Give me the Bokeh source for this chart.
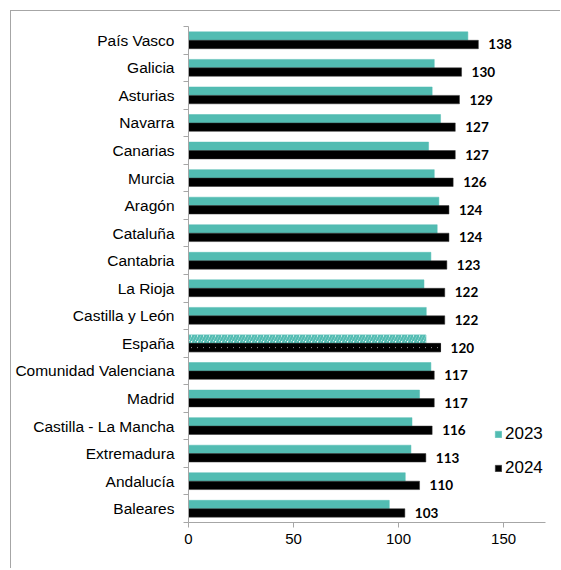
from bokeh.plotting import figure
from bokeh.models import Range1d, FixedTicker, Legend, LegendItem, ColumnDataSource
from bokeh.core.properties import value
from bokeh.embed import file_html
from bokeh.resources import INLINE

regions = ["País Vasco", "Galicia", "Asturias", "Navarra", "Canarias", "Murcia",
           "Aragón", "Cataluña", "Cantabria", "La Rioja", "Castilla y León", "España",
           "Comunidad Valenciana", "Madrid", "Castilla - La Mancha", "Extremadura",
           "Andalucía", "Baleares"]
v2023 = [133, 117, 116, 120, 114.3, 117, 119.2, 118.4, 115.4, 112.1, 113.2, 113,
         115.4, 110, 106.4, 105.9, 103.2, 95.6]
v2024 = [138, 130, 129, 127, 127, 126, 124, 124, 123, 122, 122, 120, 117, 117, 116,
         113, 110, 103]
highlight = "España"
x_ticks = [0, 50, 100, 150]

TEAL = "#52BCB2"
GRAY = "#a6a6a6"
n = len(regions)
ypos = [n - 1 - i for i in range(n)]
off = 0.153
h = 0.305

def rows(sel):
    idx = [i for i, r in enumerate(regions) if sel(r)]
    return ColumnDataSource(dict(
        y23=[ypos[i] + off for i in idx],
        y24=[ypos[i] - off for i in idx],
        v23=[v2023[i] for i in idx],
        v24=[v2024[i] for i in idx],
    ))

src = rows(lambda r: r != highlight)
src_h = rows(lambda r: r == highlight)
src_lab = ColumnDataSource(dict(x=v2024, y=[p - off for p in ypos],
                                t=[str(v) for v in v2024]))

p = figure(width=550, height=558, output_backend="svg", toolbar_location=None,
           x_range=Range1d(0, 175.2), y_range=Range1d(-0.5, n - 0.5),
           min_border_left=177, min_border_top=15, min_border_bottom=47,
           min_border_right=5)
p.margin = (10, 0, 0, 10)
p.styles = {"border-left": "1px solid #a6a6a6", "border-top": "1px solid #a6a6a6"}
p.outline_line_color = None
p.xgrid.visible = False
p.ygrid.visible = False

r23 = p.hbar(y="y23", right="v23", left=0, height=h, source=src,
             fill_color=TEAL, line_color=TEAL, line_width=0.5)
r24 = p.hbar(y="y24", right="v24", left=0, height=h, source=src,
             fill_color="black", line_color="#333333", line_width=0.5)
p.hbar(y="y23", right="v23", left=0, height=h, source=src_h,
       fill_color="white", line_color=TEAL, line_width=0.8,
       hatch_pattern="/", hatch_color=TEAL, hatch_weight=2.5, hatch_scale=6)
p.hbar(y="y24", right="v24", left=0, height=h, source=src_h,
       fill_color="white", line_color="black", line_width=0.8,
       hatch_pattern="/", hatch_color="black", hatch_weight=3.5, hatch_scale=6)

p.text(x="x", y="y", text="t", source=src_lab, x_offset=10,
       text_baseline="middle", text_align="left",
       text_font=value("Lato"), text_font_style="bold", text_font_size="13.5px",
       text_color="black")

# axes
xa = p.xaxis[0]
xa.ticker = FixedTicker(ticks=x_ticks, minor_ticks=[])
xa.bounds = (0, 170)
xa.axis_line_color = GRAY
xa.major_tick_line_color = GRAY
xa.major_tick_out = 5
xa.major_tick_in = 0
xa.minor_tick_line_color = None
xa.major_label_text_font = "Liberation Sans"
xa.major_label_text_font_size = "15px"
xa.major_label_text_color = "black"
xa.major_label_standoff = 6

ya = p.yaxis[0]
ya.ticker = FixedTicker(ticks=ypos, minor_ticks=[k - 0.5 for k in range(n + 1)])
ya.major_label_overrides = {ypos[i]: regions[i] for i in range(n)}
ya.axis_line_color = GRAY
ya.major_tick_line_color = None
ya.major_tick_out = 0
ya.major_tick_in = 0
ya.minor_tick_line_color = GRAY
ya.minor_tick_out = 5
ya.minor_tick_in = 0
ya.major_label_text_font = "Liberation Sans"
ya.major_label_text_font_size = "15.5px"
ya.major_label_text_color = "black"
ya.major_label_standoff = 9

legend = Legend(items=[LegendItem(label="2023", renderers=[r23]),
                       LegendItem(label="2024", renderers=[r24])],
                location=(306, 44), orientation="vertical",
                glyph_width=8, glyph_height=8, label_height=20, spacing=14,
                label_standoff=3, padding=0, margin=0,
                border_line_color=None, background_fill_alpha=0,
                label_text_font="Liberation Sans", label_text_font_size="17px",
                label_text_color="black")
p.add_layout(legend)

open("out.html", "w").write(file_html(p, INLINE))
